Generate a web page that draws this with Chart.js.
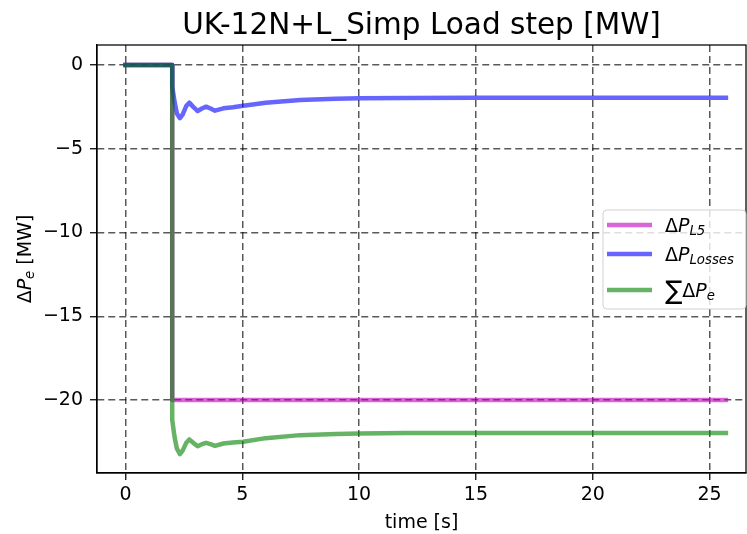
<!DOCTYPE html>
<html>
<head>
<meta charset="utf-8">
<script src="https://cdn.jsdelivr.net/npm/chart.js@4.4.0/dist/chart.umd.min.js"></script>
<style>
  html, body { margin: 0; padding: 0; background: #fff; }
  #wrap { width: 747px; height: 534px; position: relative; }
</style>
</head>
<body>
<div id="wrap"><canvas id="stepChart"></canvas></div>
<script>
// time axis [s] and the three power traces [MW]
var time = [0, 2.0, 2.0, 2.1, 2.2, 2.33, 2.45, 2.6, 2.73, 2.9, 3.09, 3.27, 3.45, 3.64, 3.83, 4.19, 4.6, 5.04, 6.0, 7.47, 9.0, 10.0, 12.0, 15.0, 20.0, 25.7];
var dpL5 = [0, 0, -20, -20, -20, -20, -20, -20, -20, -20, -20, -20, -20, -20, -20, -20, -20, -20, -20, -20, -20, -20, -20, -20, -20, -20];
var dpLosses = [0, 0, -1.29, -2.2, -2.9, -3.18, -2.95, -2.45, -2.25, -2.5, -2.75, -2.6, -2.49, -2.6, -2.73, -2.59, -2.52, -2.43, -2.26, -2.09, -2.02, -1.99, -1.97, -1.96, -1.96, -1.96];
var dpSum = [0, 0, -21.19, -22.2, -22.9, -23.22, -23.0, -22.55, -22.35, -22.55, -22.75, -22.63, -22.55, -22.63, -22.73, -22.59, -22.53, -22.49, -22.27, -22.09, -22.02, -21.99, -21.97, -21.96, -21.96, -21.96];

var xTicks = [0, 5, 10, 15, 20, 25];
var yTicks = [0, -5, -10, -15, -20];

var FONT = "'DejaVu Sans', sans-serif";

function toPoints(ys) {
  return time.map(function (t, i) { return { x: t, y: ys[i] }; });
}

// draw a run of text pieces: [text, italic, sub, scale, dy]
function partsWidth(ctx, parts, size) {
  var w = 0;
  parts.forEach(function (p) {
    var s = size * (p[3] || (p[2] ? 0.7 : 1));
    ctx.font = (p[1] ? 'italic ' : '') + s + 'px ' + FONT;
    w += ctx.measureText(p[0]).width;
  });
  return w;
}
function drawParts(ctx, x, y, parts, size) {
  ctx.textBaseline = 'alphabetic';
  ctx.textAlign = 'left';
  parts.forEach(function (p) {
    var s = size * (p[3] || (p[2] ? 0.7 : 1));
    ctx.font = (p[1] ? 'italic ' : '') + s + 'px ' + FONT;
    var dy = p[2] ? size * 0.17 : (p[4] || 0);
    ctx.fillText(p[0], x, y + dy);
    x += ctx.measureText(p[0]).width;
  });
  return x;
}

var legendItems = [
  { color: 'rgba(191,0,191,0.6)', y: 225, parts: [['Δ', false], ['P', true], ['L5', true, true]] },
  { color: 'rgba(0,0,255,0.6)', y: 254, parts: [['Δ', false], ['P', true], ['Losses', true, true]] },
  { color: 'rgba(0,128,0,0.6)', y: 290, parts: [['∑', false, false, 1.35, 2], ['Δ', false], ['P', true], ['e', true, true]] }
];

var extras = {
  id: 'extras',
  afterDraw: function (chart) {
    var ctx = chart.ctx;
    var a = chart.chartArea;
    ctx.save();
    ctx.setLineDash([]);
    // full frame
    ctx.strokeStyle = '#000';
    ctx.lineWidth = 1.25;
    ctx.strokeRect(a.left, a.top, a.right - a.left, a.bottom - a.top);

    // legend box
    var bx = 603, by = 210, bw = 143, bh = 99, r = 4;
    ctx.beginPath();
    ctx.moveTo(bx + r, by);
    ctx.arcTo(bx + bw, by, bx + bw, by + bh, r);
    ctx.arcTo(bx + bw, by + bh, bx, by + bh, r);
    ctx.arcTo(bx, by + bh, bx, by, r);
    ctx.arcTo(bx, by, bx + bw, by, r);
    ctx.closePath();
    ctx.fillStyle = 'rgba(255,255,255,0.8)';
    ctx.fill();
    ctx.strokeStyle = 'rgba(204,204,204,0.9)';
    ctx.lineWidth = 1;
    ctx.stroke();

    ctx.fillStyle = '#000';
    legendItems.forEach(function (it) {
      ctx.strokeStyle = it.color;
      ctx.lineWidth = 4.5;
      ctx.beginPath();
      ctx.moveTo(607, it.y);
      ctx.lineTo(652, it.y);
      ctx.stroke();
      drawParts(ctx, 665, it.y + 6.5, it.parts, 19);
    });

    // y axis title with subscript
    var yParts = [['Δ', false], ['P', true], ['e', true, true], [' [MW]', false]];
    var w = partsWidth(ctx, yParts, 19);
    ctx.translate(31, (a.top + a.bottom) / 2);
    ctx.rotate(-Math.PI / 2);
    drawParts(ctx, -w / 2, 0, yParts, 19);
    ctx.restore();
  }
};

var gridStyle = {
  color: 'rgba(0,0,0,0.65)',
  lineWidth: 1.5,
  tickLength: 7,
  tickColor: '#000',
  tickWidth: 1.25,
  tickBorderDash: []
};
var borderStyle = { color: '#000', width: 1.25, dash: [7, 4] };

var stepChart = new Chart(document.getElementById('stepChart').getContext('2d'), {
  type: 'line',
  data: {
    datasets: [
      { label: 'ΔP_L5', data: toPoints(dpL5), borderColor: 'rgba(191,0,191,0.6)', order: 3 },
      { label: 'ΔP_Losses', data: toPoints(dpLosses), borderColor: 'rgba(0,0,255,0.6)', order: 2 },
      { label: '∑ΔP_e', data: toPoints(dpSum), borderColor: 'rgba(0,128,0,0.6)', order: 1 }
    ]
  },
  options: {
    responsive: true,
    maintainAspectRatio: false,
    animation: false,
    layout: { padding: { left: 0, right: 1, top: 0, bottom: 0 } },
    elements: {
      line: { borderWidth: 4.5, tension: 0, fill: false, borderCapStyle: 'square', borderJoinStyle: 'round' },
      point: { radius: 0 }
    },
    plugins: {
      legend: { display: false },
      tooltip: { enabled: false },
      title: {
        display: true,
        fullSize: false,
        text: 'UK-12N+L_Simp Load step [MW]',
        color: '#000',
        font: { family: FONT, size: 29.5, weight: 'normal' },
        padding: { top: 8.5, bottom: 1.1 }
      }
    },
    scales: {
      x: {
        type: 'linear',
        min: -1.22,
        max: 26.56,
        grid: gridStyle,
        border: borderStyle,
        ticks: { color: '#000', font: { family: FONT, size: 19 }, padding: 4, maxRotation: 0 },
        afterBuildTicks: function (s) { s.ticks = xTicks.map(function (v) { return { value: v }; }); },
        afterFit: function (s) { s.height = 61; },
        title: { display: true, text: 'time [s]', color: '#000', font: { family: FONT, size: 19 }, padding: { top: 0, bottom: 0 } }
      },
      y: {
        type: 'linear',
        min: -24.35,
        max: 1.19,
        grid: gridStyle,
        border: borderStyle,
        ticks: {
          color: '#000', font: { family: FONT, size: 19 }, padding: 7,
          callback: function (v) { return String(v).replace('-', '\u2212'); }
        },
        afterBuildTicks: function (s) { s.ticks = yTicks.map(function (v) { return { value: v }; }); },
        afterFit: function (s) { s.width = 97; }
      }
    }
  },
  plugins: [extras]
});
</script>
</body>
</html>
